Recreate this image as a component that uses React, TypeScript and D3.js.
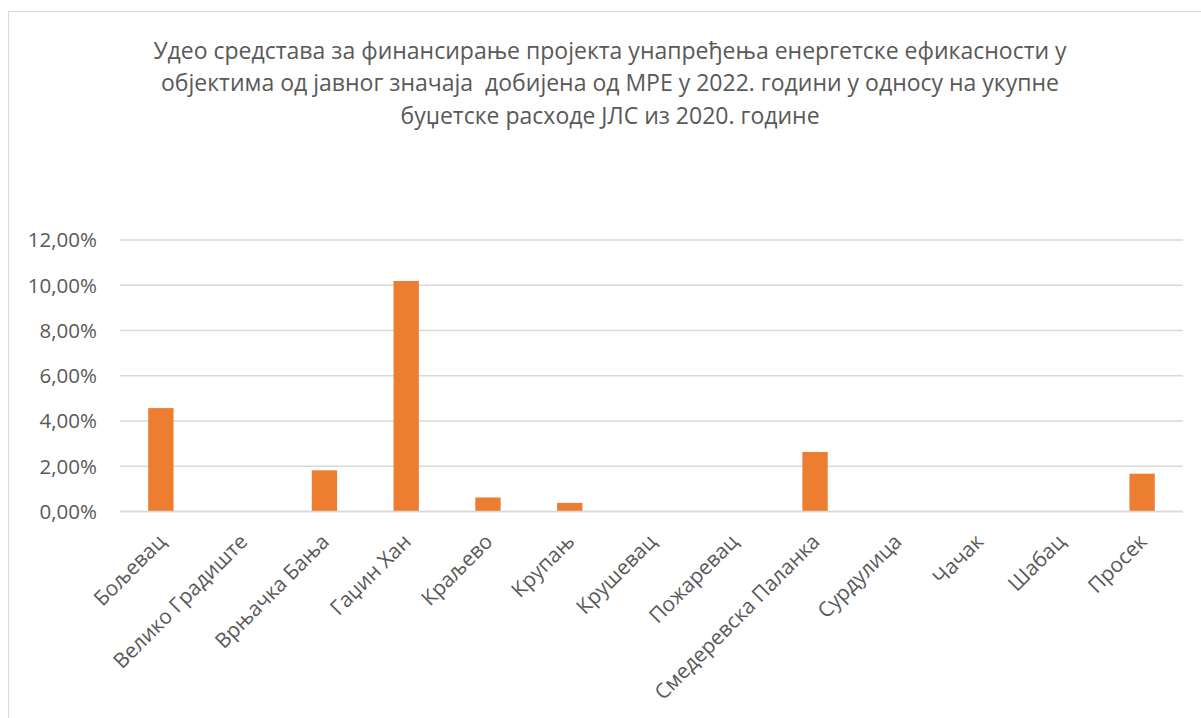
import React from "react";
import * as d3 from "d3";

const titleLines = [
  "Удео средстава за финансирање пројекта унапређења енергетске ефикасности у",
  "објектима од јавног значаја  добијена од МРЕ у 2022. години у односу на укупне",
  "буџетске расходе ЈЛС из 2020. године",
];

const categories = [
  "Бољевац",
  "Велико Градиште",
  "Врњачка Бања",
  "Гаџин Хан",
  "Краљево",
  "Крупањ",
  "Крушевац",
  "Пожаревац",
  "Смедеревска Паланка",
  "Сурдулица",
  "Чачак",
  "Шабац",
  "Просек",
];

const values = [4.57, 0, 1.82, 10.19, 0.62, 0.38, 0, 0, 2.63, 0, 0, 0, 1.67];

const yTicks = [0, 2, 4, 6, 8, 10, 12];

const W = 1201;
const H = 718;
const left = 120;
const right = 1183;
const top = 240;
const bottom = 511.5;
const font = "'Open Sans', 'Noto Sans', sans-serif";
const textColor = "#595959";

export default function App() {
  const x = d3.scaleBand<string>().domain(categories).range([left, right]).paddingInner(0.69).paddingOuter(0.345);
  const y = d3.scaleLinear().domain([0, 12]).range([bottom, top]);
  const fmt = (v: number) => v.toFixed(2).replace(".", ",") + "%";

  return (
    <svg width={W} height={H} style={{ position: "absolute", left: 0, top: 0 }}>
      <rect x={0} y={0} width={W} height={H} fill="#fff" />
      <rect x={8.5} y={11.5} width={1250} height={800} fill="#fff" stroke="#d9d9d9" strokeWidth={1} />
      {titleLines.map((t, i) => (
        <text
          key={i}
          x={610}
          y={58.5 + i * 32.5}
          textAnchor="middle"
          fontFamily={font}
          fontSize={23}
          fill={textColor}
          style={{ whiteSpace: "pre" }}
        >
          {t}
        </text>
      ))}
      {yTicks.map((t) => (
        <g key={t}>
          <line x1={left} x2={right} y1={y(t)} y2={y(t)} stroke="#d9d9d9" strokeWidth={1.5} />
          <text x={97} y={y(t)} dy="0.36em" textAnchor="end" fontFamily={font} fontSize={20.5} fill={textColor}>
            {fmt(t)}
          </text>
        </g>
      ))}
      {categories.map((c, i) =>
        values[i] > 0 ? (
          <rect
            key={c}
            x={x(c)!}
            y={y(values[i])}
            width={x.bandwidth()}
            height={y(0) - y(values[i])}
            fill="#ed7d31"
          />
        ) : null
      )}
      <line x1={left} x2={right} y1={y(0)} y2={y(0)} stroke="#d9d9d9" strokeWidth={1.5} />
      {categories.map((c) => {
        const cx = x(c)! + x.bandwidth() / 2;
        return (
          <text
            key={c}
            transform={`translate(${cx + 6},${543}) rotate(-45)`}
            textAnchor="end"
            fontFamily={font}
            fontSize={20.8}
            fill={textColor}
          >
            {c}
          </text>
        );
      })}
    </svg>
  );
}
